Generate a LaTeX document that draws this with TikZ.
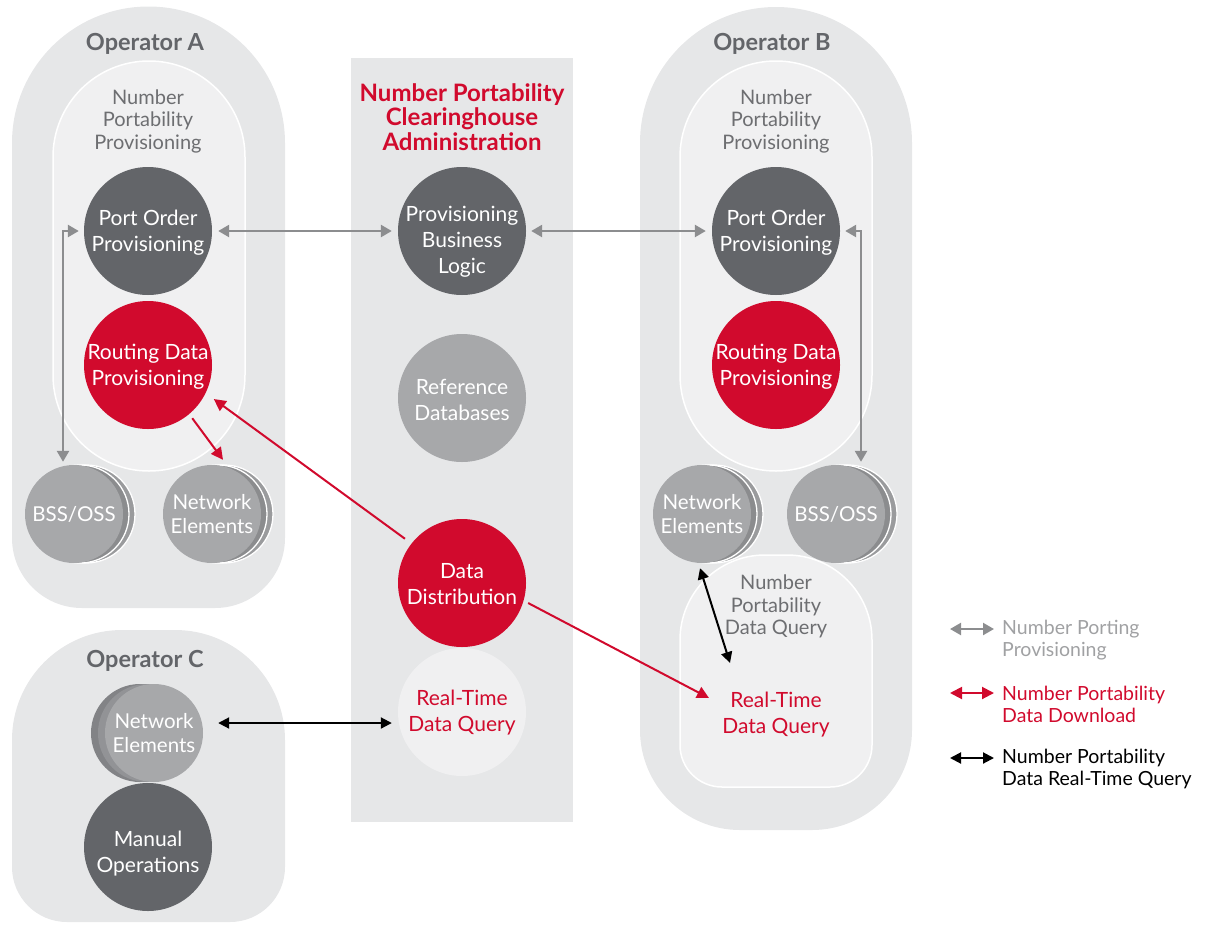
\documentclass[tikz,border=0pt]{standalone}
\usepackage{fontspec}
\setmainfont{Lato}
\usetikzlibrary{arrows.meta,calc}
\definecolor{opbg}{HTML}{E6E7E8}
\definecolor{inbg}{HTML}{F0F0F1}
\definecolor{dgray}{HTML}{636569}
\definecolor{nred}{HTML}{D10A2D}
\definecolor{mgray}{HTML}{A7A8AA}
\definecolor{agray}{HTML}{8C8D8F}
\definecolor{tgray}{HTML}{6D6E71}
\definecolor{lgray}{HTML}{A0A1A3}
\definecolor{bgrayA}{HTML}{8B8C8E}
\definecolor{bgrayB}{HTML}{9A9B9D}
\definecolor{cgrayA}{HTML}{828386}
\definecolor{cgrayB}{HTML}{929396}
\begin{document}
\begin{tikzpicture}[x=1pt,y=-1pt,
  bubble/.style={circle,minimum size=128pt,inner sep=0pt,text=white,align=center,font=\fontsize{21}{26}\selectfont},
  bubtext/.style={inner sep=0pt,text=white,align=center,font=\fontsize{21}{26}\selectfont},
  darkb/.style={bubble,fill=dgray},
  redb/.style={bubble,fill=nred},
  grayb/.style={bubble,fill=mgray},
  smallb/.style={circle,minimum size=98pt,inner sep=0pt,text=white,align=center,font=\fontsize{20.5}{24}\selectfont,fill=mgray},
  backA/.style={circle,minimum size=98pt,inner sep=0pt,fill=bgrayB,draw=white,line width=1.3pt},
  backB/.style={circle,minimum size=98pt,inner sep=0pt,fill=bgrayA,draw=white,line width=1.3pt},
  backC/.style={circle,minimum size=98pt,inner sep=0pt,fill=cgrayA},
  backD/.style={circle,minimum size=98pt,inner sep=0pt,fill=cgrayB},
  optitle/.style={font=\bfseries\fontsize{23.5}{26}\selectfont,text=dgray},
  inlabel/.style={align=center,text=tgray,font=\fontsize{20}{22.5}\selectfont},
  redlabel/.style={align=center,text=nred,font=\fontsize{21}{26}\selectfont,inner sep=0pt},
  leglabel/.style={anchor=west,align=left,inner sep=0pt,font=\fontsize{19.5}{22}\selectfont},
  opshape/.style={fill=opbg},
  inshape/.style={fill=inbg,draw=white,line width=1.5pt},
  garr/.style={draw=agray,line width=2.5pt,{Triangle[length=11pt,width=12pt]}-{Triangle[length=11pt,width=12pt]}},
  rarr/.style={draw=nred,line width=2pt,-{Triangle[length=12pt,width=12pt]}},
  rarrb/.style={draw=nred,line width=2pt,{Triangle[length=12pt,width=12pt]}-{Triangle[length=12pt,width=12pt]}},
  karr/.style={draw=black,line width=2pt,{Triangle[length=11pt,width=11pt]}-{Triangle[length=11pt,width=11pt]}}
]
\useasboundingbox (0,0) rectangle (1214,926);

% ---------- Operator backgrounds ----------
\path[opshape] (12,143) arc[start angle=180,end angle=360,radius=136.5] -- (285,538)
  arc[start angle=0,end angle=90,radius=70] -- (82,608)
  arc[start angle=90,end angle=180,radius=70] -- cycle;
\path[opshape] (640,143) arc[start angle=180,end angle=360,radius=136] -- (912,730)
  arc[start angle=0,end angle=90,radius=100] -- (740,830)
  arc[start angle=90,end angle=180,radius=100] -- cycle;
\path[opshape] (12,740) arc[start angle=180,end angle=270,radius=110] -- (175,630)
  arc[start angle=270,end angle=360,radius=110] -- (285,867)
  arc[start angle=0,end angle=90,radius=55] -- (67,922)
  arc[start angle=90,end angle=180,radius=55] -- cycle;
% center column
\path[fill=opbg] (351,58) rectangle (573,822);

% ---------- inner areas ----------
\path[inshape,rounded corners=96pt] (53,61) rectangle (245,471);
\path[inshape,rounded corners=96pt] (680,61) rectangle (872,471);
\path[inshape] (680,640) arc[start angle=180,end angle=270,radius=85] -- (787,555)
  arc[start angle=270,end angle=360,radius=85] -- (872,745)
  arc[start angle=0,end angle=90,radius=42] -- (722,787)
  arc[start angle=90,end angle=180,radius=42] -- cycle;

% ---------- titles ----------
\node[optitle] (tA) at (145,44) {Operator A};
\node[optitle] (tB) at (772,44) {Operator B};
\node[optitle] (tC) at (145,661) {Operator C};
\node[align=center,text=nred,font=\bfseries\fontsize{24}{24.5}\selectfont] (tN) at (462,117)
  {Number Portability\\Clearinghouse\\Administration};

\node[inlabel] (lA) at (148,121) {Number\\Portability\\Provisioning};
\node[inlabel] (lB) at (776,121) {Number\\Portability\\Provisioning};
\node[inlabel] (lQ) at (776,606.5) {Number\\Portability\\Data Query};
\node[redlabel] (rtqB) at (776,715) {Real-Time\\Data Query};

% ---------- Operator A ----------
\node[darkb] (poA) at (148,231) {};
\node[bubtext] (poAt) at (148,232.5) {Port Order\\Provisioning};
\node[redb] (routA) at (148,365) {};
\node[bubtext] (routAt) at (148,367) {Routing Data\\Provisioning};
\node[backA] (bssA2) at (86,514) {};
\node[backB] (bssA1) at (80,514) {};
\node[smallb] (bssA) at (74,514) {BSS/OSS};
\node[backA] (neA2) at (224,514) {};
\node[backB] (neA1) at (218,514) {};
\node[smallb] (neA) at (212,514) {Network\\Elements};

% ---------- Operator B ----------
\node[darkb] (poB) at (776,231) {};
\node[bubtext] (poBt) at (776,232.5) {Port Order\\Provisioning};
\node[redb] (routB) at (776,365) {};
\node[bubtext] (routBt) at (776,367) {Routing Data\\Provisioning};
\node[backA] (neB2) at (714,514) {};
\node[backB] (neB1) at (708,514) {};
\node[smallb] (neB) at (702,514) {Network\\Elements};
\node[backA] (bssB2) at (848,514) {};
\node[backB] (bssB1) at (842,514) {};
\node[smallb] (bssB) at (836,514) {BSS/OSS};

% ---------- Operator C ----------
\node[backC] (neC2) at (140,733) {};
\node[backD] (neC1) at (147,733) {};
\node[smallb] (neC) at (154,733) {Network\\Elements};
\node[darkb] (man) at (148,847) {};
\node[bubtext] (mant) at (148,854) {Manual\\Operations};

% ---------- Center ----------
\node[darkb] (pbl) at (462,231) {};
\node[bubtext] (pblt) at (462,242) {Provisioning\\Business\\Logic};
\node[grayb] (refdb) at (462,398) {};
\node[bubtext] (refdbt) at (462,400) {Reference\\Databases};
\node[redb] (dd) at (462,583) {};
\node[bubtext] (ddt) at (462,584.5) {Data\\Distribution};
\node[bubble,fill=inbg] (rtq) at (462,712) {};
\node[bubtext,text=nred] (rtqt) at (462,712.5) {Real-Time\\Data Query};

% ---------- connectors ----------
\draw[garr] ([xshift=6pt]poA.east) -- ([xshift=-6pt]pbl.west);
\draw[garr] ([xshift=5pt]pbl.east) -- ([xshift=-6pt]poB.west);
\draw[garr] ([xshift=-5pt]poA.west) -| ([xshift=-11pt,yshift=3pt]bssA.north);
\draw[garr] ([xshift=5pt]poB.east) -| ([xshift=25pt,yshift=3pt]bssB.north);

\draw[rarr,shorten <=5pt] (routA.-50) -- ([xshift=11pt,yshift=5pt]neA.north);
\draw[rarr,shorten <=8pt,shorten >=10pt] (dd.142) -- (routA.-26);
\draw[rarr,shorten <=5pt] (dd.-16) -- ([shift={(-67pt,17pt)}]rtqB.center);

\draw[karr] ([xshift=-2pt,yshift=-5pt]neB.south) -- ([shift={(-46pt,52pt)}]rtqB.center);
\draw[karr] ([xshift=15pt,yshift=10pt]neC.east) -- ([xshift=-6pt,yshift=-11pt]rtq.west);

% ---------- legend ----------
\coordinate (g1a) at (950,629); \coordinate (g1b) at (994,629);
\coordinate (g2a) at (950,693); \coordinate (g2b) at (994,693);
\coordinate (g3a) at (950,758); \coordinate (g3b) at (994,758);
\draw[garr,line width=2.2pt] (g1a) -- (g1b);
\draw[rarrb] (g2a) -- (g2b);
\draw[karr] (g3a) -- (g3b);
\node[leglabel,text=lgray] (L1) at (1002,640) {Number Porting\\Provisioning};
\node[leglabel,text=nred] (L2) at (1002,704.5) {Number Portability\\Data Download};
\node[leglabel,text=black] (L3) at (1002,769) {Number Portability\\Data Real-Time Query};
\end{tikzpicture}
\end{document}
